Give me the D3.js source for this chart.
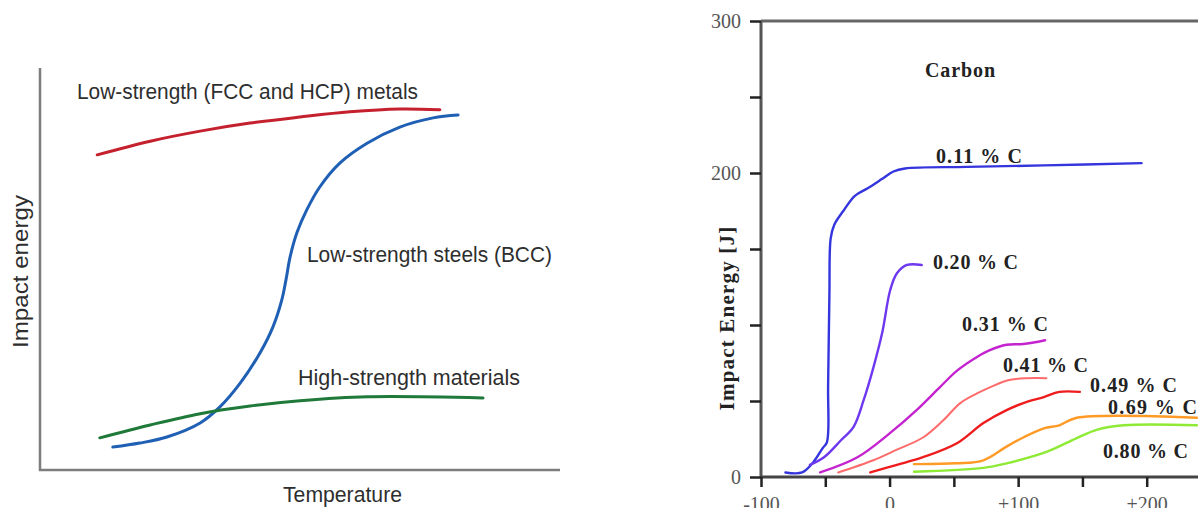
<!DOCTYPE html>
<html>
<head>
<meta charset="utf-8">
<script src="https://cdn.jsdelivr.net/npm/d3@7/dist/d3.min.js"></script>
<style>
  html, body { margin: 0; padding: 0; background: #fff; }
  svg { display: block; }
</style>
</head>
<body>
<svg id="chart" width="1198" height="508"></svg>
<script>
// ---- Schematic panel: impact energy vs temperature (relative units 0-100) ----
const fccHcpMetals = [[11, 78.4], [21.2, 81.8], [30.8, 84.3], [40.4, 86.3], [50, 87.8], [59.6, 89.1], [69.2, 89.8], [76.9, 89.6]];
const bccSteels = [[14.0, 5.7], [19.2, 6.7], [24.4, 8.2], [30.8, 11.7], [34.6, 15.7], [38.5, 21.6], [42.3, 29.1],
  [44.8, 35.6], [46.5, 42.3], [47.3, 47.3], [48.1, 53.0], [49.4, 59.0], [51.3, 64.7], [53.8, 70.4],
  [57.7, 76.4], [62.9, 81.3], [69.2, 85.3], [75.6, 87.6], [80.4, 88.3]];
const highStrength = [[11.5, 8.0], [21.2, 11.2], [30.8, 14.0], [40.4, 15.9], [50, 17.2], [62.9, 18.2], [85.2, 17.9]];
const schematicLabels = ["Low-strength (FCC and HCP) metals", "Low-strength steels (BCC)", "High-strength materials"];

// ---- Carbon panel: Charpy impact energy [J] vs temperature [°C] ----
const c011 = [[-81, 3], [-68, 3], [-60, 9], [-52, 19], [-48.7, 23], [-47.8, 60], [-46.8, 120], [-45.8, 157],
  [-43, 166], [-36, 175], [-27, 185], [-17, 190], [-6, 196], [3, 201], [12, 203], [60, 204], [120, 205], [196, 206.5]];
const c020 = [[-62, 8], [-51, 13], [-38, 24], [-28, 33], [-20, 51], [-12.6, 72], [-5.7, 95], [0.5, 123],
  [5.7, 134], [13.5, 139.5], [25, 139.5]];
const c031 = [[-54, 3], [-25, 13], [0.5, 29], [21, 44], [39, 59], [52.5, 70], [68, 79], [78, 83.5],
  [91, 87], [104, 87.5], [121, 90]];
const c041 = [[-40, 3], [-12.6, 11], [5.7, 18], [26, 26], [42, 37.5], [55, 48.6], [68, 55], [78, 59],
  [94, 64], [122, 65]];
const c049 = [[-15, 3], [5.7, 8], [26, 13], [52, 22], [73, 35.5], [91, 44], [104, 48.6], [120, 52.6],
  [132, 56], [148, 56]];
const c069 = [[19, 8.5], [52, 9], [73, 11], [91, 20], [104, 26], [120, 32], [132, 34], [145.6, 39], [239, 39]];
const c080 = [[19, 3.5], [73, 6], [91, 9], [122, 16.5], [145.6, 25.6], [161, 31], [182, 34], [239, 34]];
const carbonLabels = ["0.11 % C", "0.20 % C", "0.31 % C", "0.41 % C", "0.49 % C", "0.69 % C", "0.80 % C"];
const energyTicks = [0, 50, 100, 150, 200, 250, 300];
const energyTickLabels = ["0", "", "", "", "200", "", "300"];
const tempTicks = [-100, -50, 0, 50, 100, 150, 200, 250];
const tempTickLabels = ["-100", "", "0", "", "+100", "", "+200", ""];

const svg = d3.select("#chart");

// ================= Left: schematic =================
const sx = d3.scaleLinear().domain([0, 100]).range([40, 560]);
const sy = d3.scaleLinear().domain([0, 100]).range([470, 68]);
const left = svg.append("g");

left.append("path")
  .attr("d", d3.line()([[sx(0), sy(100)], [sx(0), sy(0)], [sx(100), sy(0)]]))
  .attr("fill", "none").attr("stroke", "#7d7d7d").attr("stroke-width", 2.5);

const sLine = d3.line().x(d => sx(d[0])).y(d => sy(d[1])).curve(d3.curveCatmullRom.alpha(0.5));
[[fccHcpMetals, "#c4202e"], [bccSteels, "#1f5fb4"], [highStrength, "#1f7a3a"]].forEach(([data, color]) => {
  left.append("path").attr("d", sLine(data))
    .attr("fill", "none").attr("stroke", color).attr("stroke-width", 3)
    .attr("stroke-linecap", "round");
});

const sansFont = "'Liberation Sans', Arial, sans-serif";
function sLabel(text, x0, x1, y) {
  left.append("text").text(text)
    .attr("x", x0).attr("y", y)
    .attr("textLength", x1 - x0).attr("lengthAdjust", "spacingAndGlyphs")
    .attr("font-family", sansFont).attr("font-size", 22).attr("fill", "#2e2e2e");
}
sLabel(schematicLabels[0], 77, 418, 99);
sLabel(schematicLabels[1], 307, 552, 262);
sLabel(schematicLabels[2], 298, 520, 385);
sLabel("Temperature", 283, 402, 502);
left.append("text").text("Impact energy")
  .attr("transform", "translate(28,348) rotate(-90)")
  .attr("textLength", 153).attr("lengthAdjust", "spacingAndGlyphs")
  .attr("font-family", sansFont).attr("font-size", 22).attr("fill", "#2e2e2e");

// ================= Right: carbon steels =================
const x = d3.scaleLinear().domain([-100, 250]).range([761, 1211]);
const y = d3.scaleLinear().domain([0, 300]).range([477, 21]);
const right = svg.append("g");
const serif = "'Liberation Serif', 'Times New Roman', serif";

// frame: top edge and axis lines
right.append("line")
  .attr("x1", x(-100)).attr("x2", 1198).attr("y1", y(300)).attr("y2", y(300))
  .attr("stroke", "#666").attr("stroke-width", 3);
right.append("line")
  .attr("x1", x(-100)).attr("x2", x(-100)).attr("y1", y(300)).attr("y2", y(0))
  .attr("stroke", "#555").attr("stroke-width", 3);
right.append("line")
  .attr("x1", x(-100)).attr("x2", 1198).attr("y1", y(0)).attr("y2", y(0))
  .attr("stroke", "#444").attr("stroke-width", 3);

const yAxis = right.append("g")
  .attr("transform", `translate(${x(-100)},0)`)
  .call(d3.axisLeft(y).tickValues(energyTicks).tickSize(11).tickPadding(9)
    .tickFormat((d, i) => energyTickLabels[i]));
const xAxis = right.append("g")
  .attr("transform", `translate(0,${y(0)})`)
  .call(d3.axisBottom(x).tickValues(tempTicks).tickSize(10)
    .tickFormat((d, i) => tempTickLabels[i]));
[yAxis, xAxis].forEach(g => {
  g.select(".domain").remove();
  g.selectAll(".tick line").attr("stroke", "#222").attr("stroke-width", 2.5);
  g.selectAll(".tick text").attr("font-family", serif).attr("font-size", 20).attr("fill", "#555");
});
// temperature labels sit just below the tick marks
xAxis.selectAll(".tick text").attr("y", 34).attr("dy", 0);

const cLine = d3.line().x(d => x(d[0])).y(d => y(d[1])).curve(d3.curveCatmullRom.alpha(0.5));
const series = [
  [c011, "#3535dd", 2.4],
  [c020, "#6e38f0", 2.4],
  [c031, "#c424cf", 2.4],
  [c041, "#ff6b6b", 2],
  [c049, "#ee1c1c", 2.4],
  [c069, "#ff9a26", 2.4],
  [c080, "#8eea34", 2.4]
];
series.forEach(([data, color, w]) => {
  right.append("path").attr("d", cLine(data))
    .attr("fill", "none").attr("stroke", color).attr("stroke-width", w)
    .attr("stroke-linecap", "round").attr("stroke-linejoin", "round");
});

function cLabel(text, x0, x1, yb, size) {
  right.append("text").text(text)
    .attr("x", x0).attr("y", yb)
    .attr("textLength", x1 - x0).attr("lengthAdjust", "spacing")
    .attr("font-family", serif).attr("font-weight", "bold")
    .attr("font-size", size).attr("fill", "#222");
}
cLabel("Carbon", 925, 995, 77, 20);
const labelBoxes = [[936, 1022, 163], [933, 1018, 269], [962, 1048, 331], [1003, 1088, 372],
  [1090, 1177, 392], [1108, 1197, 414], [1103, 1188, 458]];
carbonLabels.forEach((t, i) => cLabel(t, labelBoxes[i][0], labelBoxes[i][1], labelBoxes[i][2], 20));

right.append("text").text("Impact Energy [J]")
  .attr("transform", "translate(734,318) rotate(-90)")
  .attr("text-anchor", "middle")
  .attr("letter-spacing", 1.2)
  .attr("font-family", serif).attr("font-weight", "bold")
  .attr("font-size", 21).attr("fill", "#222");
</script>
</body>
</html>
